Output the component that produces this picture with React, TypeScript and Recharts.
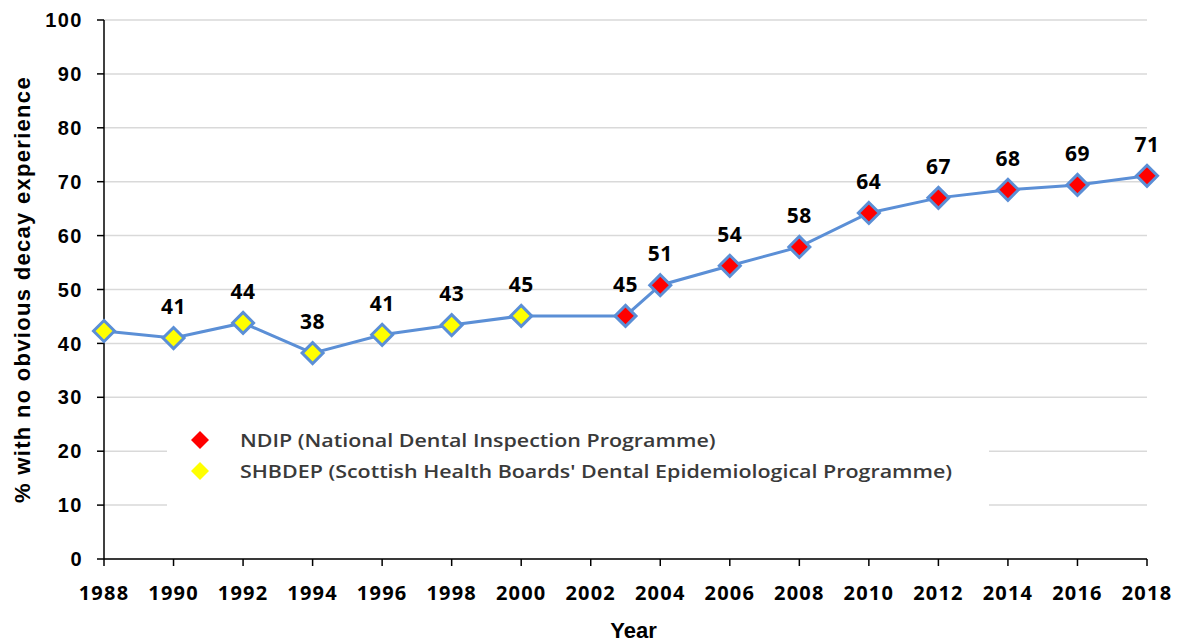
import {
  LineChart,
  Line,
  XAxis,
  YAxis,
  CartesianGrid,
  LabelList,
} from 'recharts';

const years = [1988, 1990, 1992, 1994, 1996, 1998, 2000, 2003, 2004, 2006, 2008, 2010, 2012, 2014, 2016, 2018];
const values = [42.3, 41.0, 43.8, 38.2, 41.6, 43.4, 45.1, 45.1, 50.8, 54.4, 57.9, 64.2, 67.0, 68.5, 69.4, 71.1];
const labels = ['', '41', '44', '38', '41', '43', '45', '45', '51', '54', '58', '64', '67', '68', '69', '71'];
const programme = ['SHBDEP', 'SHBDEP', 'SHBDEP', 'SHBDEP', 'SHBDEP', 'SHBDEP', 'SHBDEP', 'NDIP', 'NDIP', 'NDIP', 'NDIP', 'NDIP', 'NDIP', 'NDIP', 'NDIP', 'NDIP'];

const xTicks = [1988, 1990, 1992, 1994, 1996, 1998, 2000, 2002, 2004, 2006, 2008, 2010, 2012, 2014, 2016, 2018];
const yTicks = [0, 10, 20, 30, 40, 50, 60, 70, 80, 90, 100];

const legendItems = [
  { name: 'NDIP (National Dental Inspection Programme)', color: '#ff0000' },
  { name: "SHBDEP (Scottish Health Boards' Dental Epidemiological Programme)", color: '#ffff00' },
];

const data = years.map((y, i) => ({
  year: y,
  value: values[i],
  label: labels[i],
  prog: programme[i],
}));

const LINE = '#5b8fd6';
const FONT = '"Open Sans", Lato, sans-serif';
const ARIAL = '"Liberation Sans", Arial, sans-serif';

function Diamond(props: any) {
  const { cx, cy, payload } = props;
  if (cx == null || cy == null) return null;
  const r = 10.5;
  const fill = payload.prog === 'NDIP' ? '#ff0000' : '#ffff00';
  return (
    <path
      d={`M${cx},${cy - r} L${cx + r},${cy} L${cx},${cy + r} L${cx - r},${cy} Z`}
      fill={fill}
      stroke={LINE}
      strokeWidth={3}
    />
  );
}

function LegendBox() {
  return (
    <div
      style={{
        position: 'absolute',
        left: 167,
        top: 420,
        width: 822,
        height: 92,
        background: '#fff',
        paddingTop: 4,
        boxSizing: 'border-box',
      }}
    >
      {legendItems.map((it) => (
        <div key={it.name} style={{ display: 'flex', alignItems: 'center', height: 31 }}>
          <svg width={73} height={24} style={{ flex: 'none' }}>
            <path d="M33,3 L42,12 L33,21 L24,12 Z" fill={it.color} />
          </svg>
          <span
            style={{
              fontFamily: FONT,
              fontWeight: 600,
              fontSize: 18,
              color: '#3a3a3a',
              whiteSpace: 'nowrap',
              display: 'inline-block',
              transform: 'scaleX(1.19)',
              transformOrigin: 'left center',
            }}
          >
            {it.name}
          </span>
        </div>
      ))}
    </div>
  );
}

export default function App() {
  return (
    <div style={{ position: 'absolute', left: 0, top: 0, width: 1179, height: 642, background: '#fff' }}>
      <LineChart width={1179} height={642} data={data} margin={{ top: 20, right: 32, bottom: 0, left: 0 }}>
        <CartesianGrid vertical={false} stroke="#d9d9d9" strokeWidth={1.5} />
        <XAxis
          dataKey="year"
          type="number"
          domain={[1988, 2018]}
          ticks={xTicks}
          interval={0}
          height={83}
          stroke="#000"
          strokeWidth={1.5}
          tickSize={7}
          tickLine={{ stroke: '#000', strokeWidth: 1.5 }}
          tick={{ fill: '#000', fontFamily: FONT, fontWeight: 700, fontSize: 20, letterSpacing: 1.2, dy: 18 }}
          label={(p: any) => {
            const vb = p.viewBox;
            return (
              <text x={vb.x + vb.width / 2 + 8} y={vb.y + 79} textAnchor="middle" fontFamily={ARIAL} fontWeight={700} fontSize={22} fill="#000">
                Year
              </text>
            );
          }}
        />
        <YAxis
          type="number"
          domain={[0, 100]}
          ticks={yTicks}
          interval={0}
          width={104}
          stroke="#000"
          strokeWidth={1.5}
          tickSize={7}
          tickLine={{ stroke: '#000', strokeWidth: 1.5 }}
          tick={{ fill: '#000', fontFamily: ARIAL, fontWeight: 700, fontSize: 20, letterSpacing: 1.5, dx: -12 }}
          label={(p: any) => {
            const vb = p.viewBox;
            const cx = 22;
            const cy = vb.y + vb.height / 2;
            return (
              <text x={cx} y={cy} transform={`rotate(-90 ${cx} ${cy})`} textAnchor="middle" dominantBaseline="central" fontFamily={ARIAL} fontWeight={700} fontSize={22} letterSpacing={1.3} fill="#000">
                % with no obvious decay experience
              </text>
            );
          }}
        />
        <Line
          type="linear"
          dataKey="value"
          stroke={LINE}
          strokeWidth={3}
          dot={<Diamond />}
          activeDot={false}
          isAnimationActive={false}
        >
          <LabelList
            dataKey="label"
            position="top"
            offset={24}
            style={{ fill: '#000', fontFamily: FONT, fontWeight: 700, fontSize: 21, letterSpacing: 0.5 }}
          />
        </Line>
      </LineChart>
      <LegendBox />
    </div>
  );
}
